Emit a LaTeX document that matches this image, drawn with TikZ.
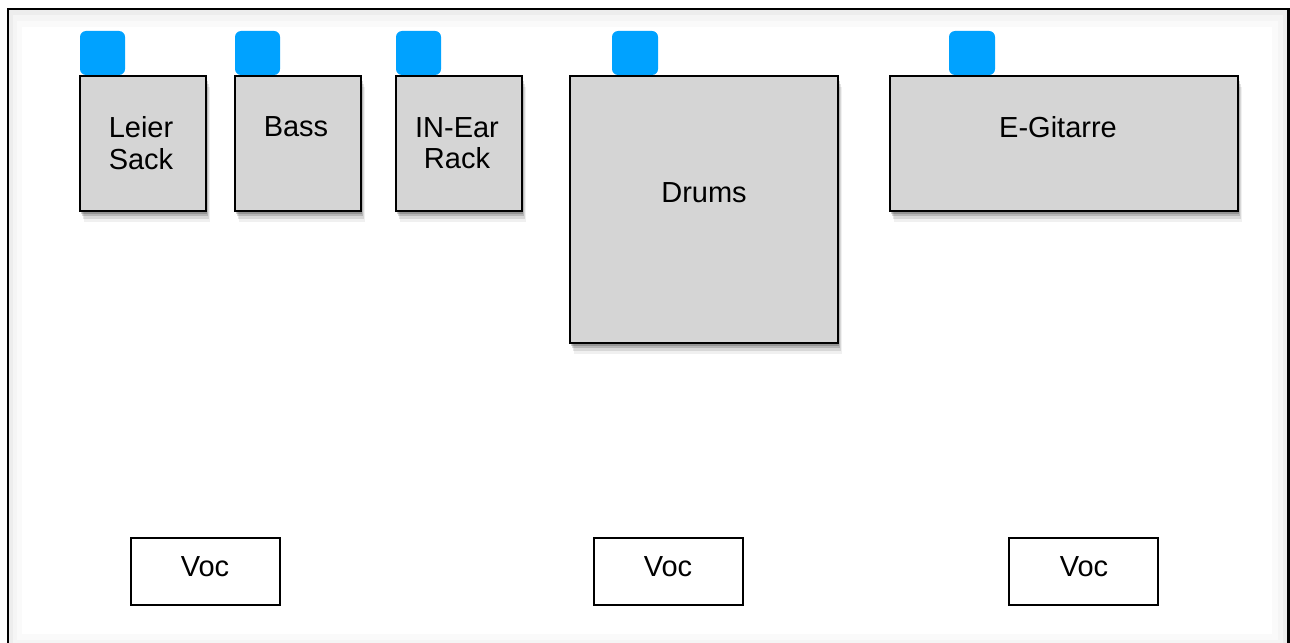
\documentclass[tikz,border=0pt]{standalone}
\usepackage{fontspec}
\setmainfont{Liberation Sans}
\usetikzlibrary{shadows,fit}
\definecolor{ampgray}{HTML}{D5D5D5}
\definecolor{plugblue}{HTML}{00A2FF}
\begin{document}
\begin{tikzpicture}[x=0.02cm,y=-0.02cm,
  amp/.style={draw=black, line width=1.3pt, fill=ampgray, inner sep=0pt,
    drop shadow={shadow xshift=0.5pt, shadow yshift=-1.5pt, opacity=0.18, fill=black},
    drop shadow={shadow xshift=1pt, shadow yshift=-3pt, opacity=0.15, fill=black},
    drop shadow={shadow xshift=1.5pt, shadow yshift=-4.5pt, opacity=0.1, fill=black},
    drop shadow={shadow xshift=2pt, shadow yshift=-6pt, opacity=0.06, fill=black}},
  plug/.style={fill=plugblue, draw=none, rounded corners=0.12cm, inner sep=0pt},
  vocbox/.style={draw=black, line width=1.3pt, fill=white, inner sep=0pt},
  lbl/.style={font=\fontsize{16.5}{18}\selectfont, align=center}]
  \useasboundingbox (0,0) rectangle (1290,642);
  % stage frame with soft inner shade
  \fill[black!7] (8,9) rectangle (1288,660);
  \fill[black!4] (13,15) rectangle (1283,652);
  \fill[black!2] (17,21) rectangle (1278,640);
  \fill[white] (22,27) rectangle (1272,634);
  \draw[line width=1.7pt] (8,660) -- (8,9) -- (1288,9) -- (1288,660);
  % backline
  \node[amp, fit={(80,76) (206,211)}] (leier) {};
  \node[amp, fit={(235,76) (361,211)}] (bass) {};
  \node[amp, fit={(396,76) (522,211)}] (inear) {};
  \node[amp, fit={(570,76) (838,343)}] (drums) {};
  \node[amp, fit={(890,76) (1238,211)}] (egit) {};
  \node[plug, fit={(80,31) (125,75)}] (leierplug) {};
  \node[plug, fit={(235,31) (280,75)}] (bassplug) {};
  \node[plug, fit={(396,31) (441,75)}] (inearplug) {};
  \node[plug, fit={(612,31) (658,75)}] (drumsplug) {};
  \node[plug, fit={(949,31) (995,75)}] (egitplug) {};
  \node[lbl] (leiertxt) at (141,143) {Leier\\Sack};
  \node[lbl] (basstxt) at (296,127) {Bass};
  \node[lbl] (ineartxt) at (457,143) {IN-Ear\\Rack};
  \node[lbl] (drumstxt) at (704,193) {Drums};
  \node[lbl] (egittxt) at (1058,127) {E-Gitarre};
  % vocals
  \node[vocbox, fit={(131,538) (280,605)}] (vocleft) {};
  \node[vocbox, fit={(594,538) (743,605)}] (vocmid) {};
  \node[vocbox, fit={(1009,538) (1158,605)}] (vocright) {};
  \node[lbl] (vocltxt) at (205,567) {Voc};
  \node[lbl] (vocmtxt) at (668,567) {Voc};
  \node[lbl] (vocrtxt) at (1084,567) {Voc};
\end{tikzpicture}
\end{document}
